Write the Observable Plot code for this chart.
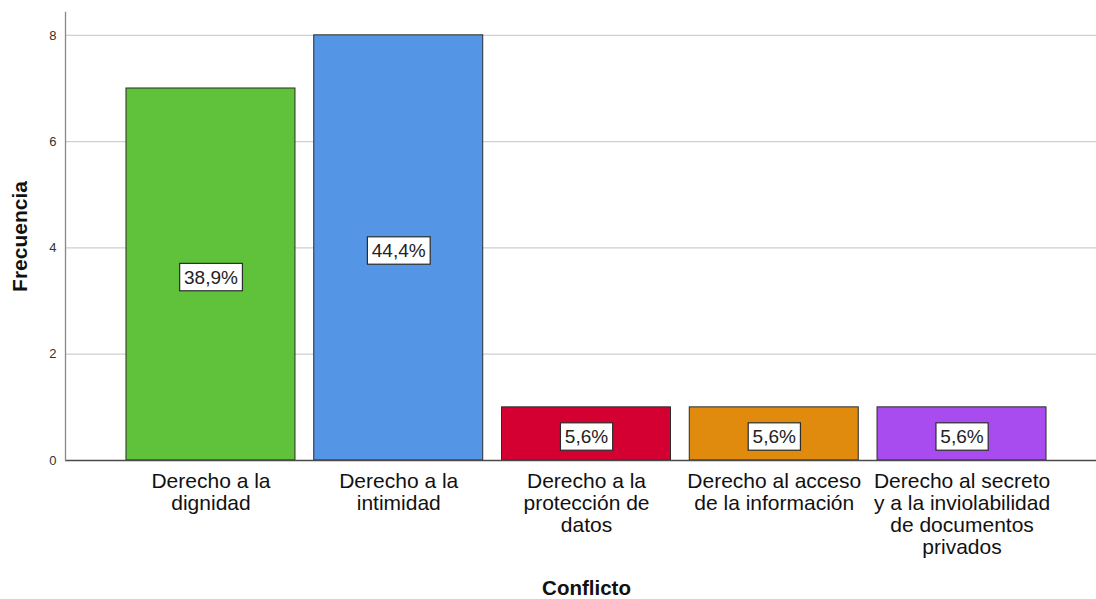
<!DOCTYPE html>
<html>
<head>
<meta charset="utf-8">
<script src="https://cdn.jsdelivr.net/npm/d3@7"></script>
<script src="https://cdn.jsdelivr.net/npm/@observablehq/plot@0.6"></script>
<style>
  html, body { margin: 0; padding: 0; background: #fff; }
  #chart { width: 1096px; height: 599px; }
</style>
</head>
<body>
<div id="chart"></div>
<script>
const categories = [
  "Derecho a la dignidad",
  "Derecho a la intimidad",
  "Derecho a la protección de datos",
  "Derecho al acceso de la información",
  "Derecho al secreto y a la inviolabilidad de documentos privados"
];
const tickLabels = [
  "Derecho a la\ndignidad",
  "Derecho a la\nintimidad",
  "Derecho a la\nprotección de\ndatos",
  "Derecho al acceso\nde la información",
  "Derecho al secreto\ny a la inviolabilidad\nde documentos\nprivados"
];
const frequencies = [7, 8, 1, 1, 1];
const percentLabels = ["38,9%", "44,4%", "5,6%", "5,6%", "5,6%"];
const colors = ["#5fc23a", "#5495e5", "#d50032", "#e08a0e", "#a84cf0"];
const yTicks = [0, 2, 4, 6, 8];

const data = categories.map((c, i) => ({
  cat: c, freq: frequencies[i], pct: percentLabels[i], color: colors[i]
}));
const tickMap = new Map(categories.map((c, i) => [c, tickLabels[i]]));

const font = "'Liberation Sans', Arial, Helvetica, sans-serif";

const chart = Plot.plot({
  width: 1096,
  height: 599,
  marginLeft: 65,
  marginRight: 0,
  marginTop: 12,
  marginBottom: 139,
  style: { fontFamily: font, background: "#fff", color: "#222" },
  x: { domain: categories, range: [116.6, 1055.4], paddingInner: 0.1, paddingOuter: 0.05, round: false, label: null },
  y: { domain: [0, 8.43], label: null },
  color: { type: "identity" },
  marks: [
    Plot.gridY(yTicks.filter(d => d > 0), { stroke: "#cfcfcf", strokeOpacity: 1, strokeWidth: 1.2 }),
    Plot.barY(data, { x: "cat", y: "freq", fill: "color", stroke: "#2b2b2b", strokeWidth: 1 }),
    Plot.ruleY([0], { stroke: "#4a4a4a", strokeWidth: 1.3 }),
    Plot.frame({ anchor: "left", stroke: "#888", strokeWidth: 1.3 }),
    Plot.axisY({ ticks: yTicks, tickSize: 0, tickPadding: 9, fontSize: 13, fill: "#333", label: null }),
    Plot.axisX({
      tickSize: 0, tickPadding: 12, fontSize: 21, fill: "#111", lineHeight: 1.04,
      tickFormat: d => tickMap.get(d), label: null
    }),
    Plot.text(data, {
      x: "cat", y: d => d.freq / 2, text: "pct", fontSize: 19, fill: "#222",
      dy: 3, className: "pctlabel"
    }),
    Plot.text(["Frecuencia"], {
      text: d => d, frameAnchor: "left", textAnchor: "middle", lineAnchor: "middle", rotate: -90, dx: -45,
      fontSize: 21, fontWeight: "bold", fill: "#111"
    }),
    Plot.text(["Conflicto"], {
      text: d => d, x: () => categories[2], frameAnchor: "bottom", lineAnchor: "middle", dy: 128,
      fontSize: 20.5, fontWeight: "bold", fill: "#111"
    })
  ]
});

document.getElementById("chart").appendChild(chart);

// white boxes behind percentage labels
d3.select(chart).selectAll("g.pctlabel text").each(function () {
  const b = this.getBBox();
  const padX = 4.4, padY = 3.2;
  const t = this.getAttribute("transform");
  const r = document.createElementNS("http://www.w3.org/2000/svg", "rect");
  r.setAttribute("x", b.x - padX);
  r.setAttribute("y", b.y - padY);
  r.setAttribute("width", b.width + 2 * padX);
  r.setAttribute("height", b.height + 2 * padY);
  r.setAttribute("fill", "#fff");
  r.setAttribute("stroke", "#2b2b2b");
  r.setAttribute("stroke-width", "1.2");
  if (t) r.setAttribute("transform", t);
  this.parentNode.insertBefore(r, this);
});
</script>
</body>
</html>
